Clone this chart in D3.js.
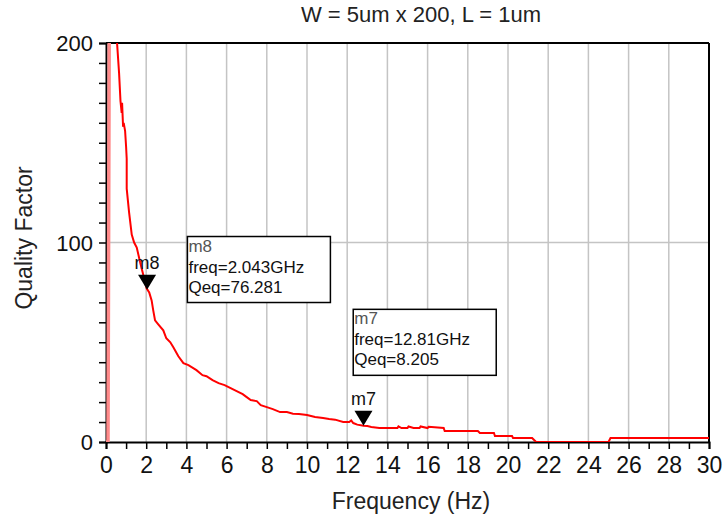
<!DOCTYPE html>
<html>
<head>
<meta charset="utf-8">
<script src="https://cdn.jsdelivr.net/npm/d3@7"></script>
<style>
  body { margin: 0; background: #fff; }
  text { font-family: "Liberation Sans", Arial, sans-serif; }
</style>
</head>
<body>
<div id="chart"></div>
<script>
// spike right at the start of the sweep (drawn pale)
var spikeFreq = [0, 0.1, 0.16, 0.2];
var spikeQ    = [0, 0, 200, 400];

// main Q(f) trace
var freq = [0.5, 0.55, 0.65, 0.72, 0.78, 0.8, 0.85, 0.88, 0.95, 1.0, 1.03, 1.03, 1.15, 1.28, 1.4, 1.53, 1.7, 1.85, 2.02, 2.15,
            2.27, 2.35, 2.44, 2.6, 2.85, 3.0, 3.2, 3.35, 3.6, 3.85, 4.1, 4.5, 4.8, 5.0, 5.3, 5.6, 5.9, 6.2, 6.5, 6.8, 7.0,
            7.2, 7.5, 7.7, 8.0, 8.3, 8.66, 9.0, 9.3, 9.6, 10.0, 10.4, 10.8, 11.1, 11.4, 11.8, 12.1, 12.2, 12.3,
            12.5, 12.81, 13.0, 13.2, 13.6, 14.5, 14.55, 14.7, 15.0, 15.05, 15.3, 15.6, 15.65, 16.0, 16.05, 16.8,
            16.85, 18.5, 18.6, 19.3, 19.35, 20.2, 20.25, 21.2, 21.4, 25.0, 25.1, 30];
var qual = [240, 200, 185, 171, 165, 170, 158, 160, 156, 148, 142, 127, 115, 104, 100, 97.5, 90, 84, 77, 75,
            71, 66, 61, 59, 56, 52, 50, 47.5, 43, 39.5, 38.5, 36, 33.5, 33, 31, 29.5, 28.5, 27, 25.5, 24, 22.5,
            21, 20.5, 18.5, 17.5, 16.5, 15, 15, 14.2, 14, 13.5, 12.5, 12, 11.5, 11.2, 10, 10, 10.8, 9.5,
            8.7, 8.2, 8, 7.5, 7, 7, 7.8, 7, 7, 7.8, 7, 7, 7.8, 7, 7.6, 7,
            5.5, 5.5, 4.5, 4.5, 3, 3, 2, 2, 0, 0, 2, 2];

var markers = [
  { name: "m8", f: 2.043, q: 76.281, label: "freq=2.043GHz", val: "Qeq=76.281", bx: 4.05, by: 103 },
  { name: "m7", f: 12.81, q: 8.205, label: "freq=12.81GHz", val: "Qeq=8.205", bx: 12.3, by: 66.5 }
];

var xTicks = d3.range(0, 31, 2);
var yTicks = [0, 100, 200];

var margin = { top: 43, right: 18, bottom: 81, left: 106 },
    width = 727 - margin.left - margin.right,
    height = 523 - margin.top - margin.bottom;

var svg = d3.select("#chart").append("svg")
    .attr("width", 727)
    .attr("height", 523);
var g = svg.append("g")
    .attr("transform", "translate(" + margin.left + "," + margin.top + ")");

var x = d3.scaleLinear().domain([0, 30]).range([0, width]);
var y = d3.scaleLinear().domain([0, 200]).range([height, 0]);

// grid
g.selectAll(".vgrid")
    .data(xTicks.filter(function(d) { return d > 0 && d < 30; }))
  .enter().append("line")
    .attr("x1", function(d) { return x(d); })
    .attr("x2", function(d) { return x(d); })
    .attr("y1", 0).attr("y2", height)
    .attr("stroke", "#c4c4c4").attr("stroke-width", 1.5);
g.append("line")
    .attr("x1", 0).attr("x2", width)
    .attr("y1", y(100)).attr("y2", y(100))
    .attr("stroke", "#c4c4c4").attr("stroke-width", 1.5);

// axes
var xAxis = g.append("g")
    .attr("transform", "translate(0," + height + ")")
    .call(d3.axisBottom(x).tickValues(d3.range(0, 31, 1)).tickSize(7).tickFormat(function(d) { return d % 2 ? "" : d; }));
var yAxis = g.append("g")
    .call(d3.axisLeft(y).tickValues(d3.range(0, 201, 10)).tickSize(7).tickFormat(function(d) { return yTicks.indexOf(d) >= 0 ? d : ""; }));
[xAxis, yAxis].forEach(function(a) {
  a.select(".domain").attr("stroke", "#000").attr("stroke-width", 2);
  a.selectAll(".tick line").attr("stroke", "#000").attr("stroke-width", 1.5);
  a.selectAll(".tick text").attr("fill", "#111")
    .style("font-family", "Liberation Sans, Arial, sans-serif");
});
xAxis.selectAll(".tick text").style("font-size", "23px").attr("y", 31).attr("dy", 0);
yAxis.selectAll(".tick text").style("font-size", "22px").attr("dy", "0.36em").attr("x", -13);

// frame top/right
g.append("line").attr("x1", 0).attr("x2", width).attr("y1", 0).attr("y2", 0).attr("stroke", "#000").attr("stroke-width", 2);
g.append("line").attr("x1", width).attr("x2", width).attr("y1", 0).attr("y2", height).attr("stroke", "#000").attr("stroke-width", 2);

// clip
g.append("clipPath").attr("id", "clip").append("rect")
    .attr("width", width).attr("height", height);

var line = d3.line()
    .x(function(d) { return x(d[0]); })
    .y(function(d) { return y(d[1]); });

g.append("path")
    .datum(d3.zip(spikeFreq, spikeQ))
    .attr("clip-path", "url(#clip)")
    .attr("fill", "none")
    .attr("stroke", "#ff8a8a")
    .attr("stroke-width", 3.5)
    .attr("d", line);

g.append("path")
    .datum(d3.zip(freq, qual))
    .attr("clip-path", "url(#clip)")
    .attr("fill", "none")
    .attr("stroke", "#ff0000")
    .attr("stroke-width", 2)
    .attr("d", line);

// markers
var m = g.selectAll(".marker").data(markers).enter().append("g");
m.append("path")
    .attr("d", function(d) {
      var px = x(d.f), py = y(d.q);
      return "M" + px + "," + py + "L" + (px - 9) + "," + (py - 15) + "L" + (px + 9) + "," + (py - 15) + "Z";
    })
    .attr("fill", "#000");
m.append("text")
    .attr("x", function(d) { return x(d.f); })
    .attr("y", function(d) { return y(d.q) - 21; })
    .attr("text-anchor", "middle")
    .style("font-size", "18px")
    .attr("fill", "#111")
    .text(function(d) { return d.name; });

var box = m.append("g")
    .attr("transform", function(d) { return "translate(" + x(d.bx) + "," + y(d.by) + ")"; });
box.append("rect")
    .attr("width", 143).attr("height", 66)
    .attr("fill", "#fff").attr("stroke", "#000").attr("stroke-width", 1.5);
box.append("text").attr("x", 1).attr("y", 15).style("font-size", "17px").attr("fill", "#555")
    .text(function(d) { return d.name; });
box.append("text").attr("x", 1).attr("y", 36).style("font-size", "17px").attr("fill", "#111")
    .text(function(d) { return d.label; });
box.append("text").attr("x", 1).attr("y", 56).style("font-size", "17px").attr("fill", "#111")
    .text(function(d) { return d.val; });

// titles
svg.append("text")
    .attr("x", 421).attr("y", 22)
    .attr("text-anchor", "middle")
    .style("font-size", "22px").attr("fill", "#222")
    .text("W = 5um x 200, L = 1um");
svg.append("text")
    .attr("x", 411).attr("y", 509)
    .attr("text-anchor", "middle")
    .style("font-size", "23px").attr("fill", "#222")
    .text("Frequency (Hz)");
svg.append("text")
    .attr("transform", "translate(32,238) rotate(-90)")
    .attr("text-anchor", "middle")
    .style("font-size", "23px").attr("fill", "#222")
    .text("Quality Factor");
</script>
</body>
</html>
